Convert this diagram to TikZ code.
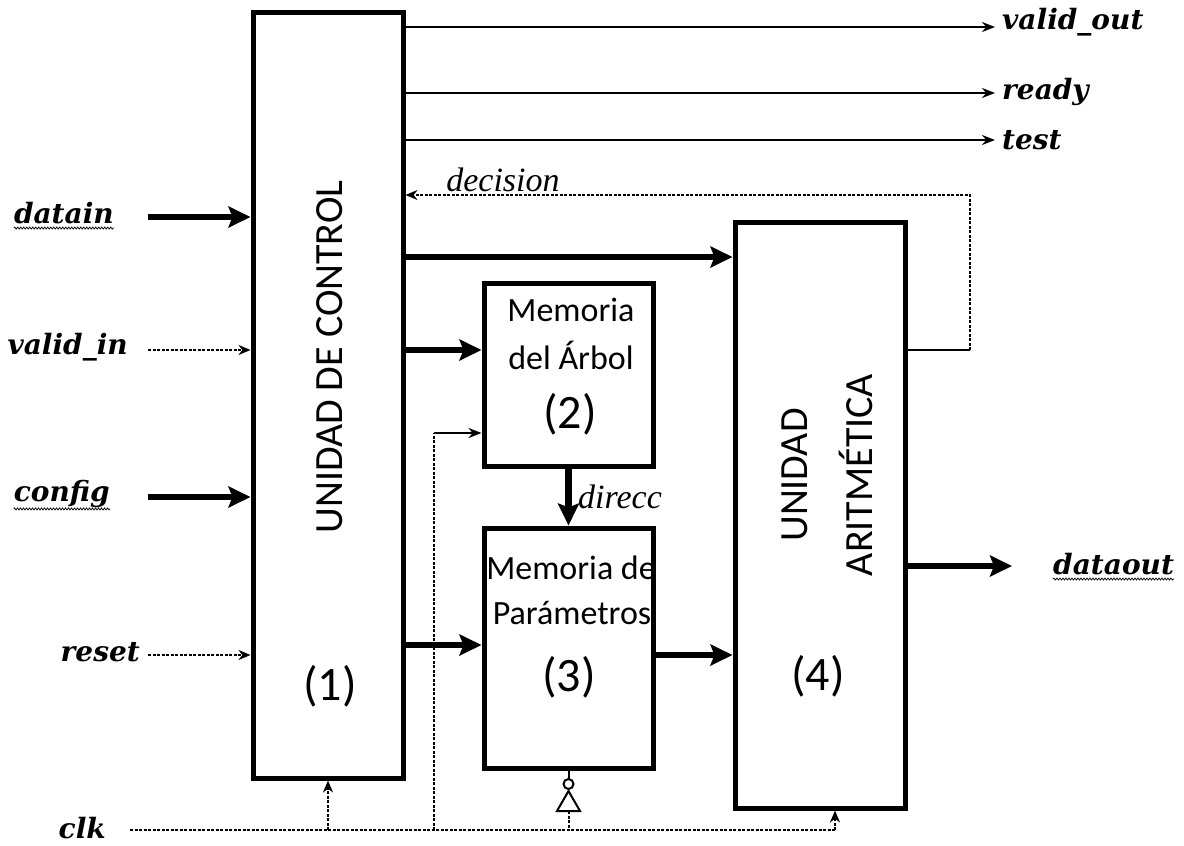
\documentclass[tikz,border=0pt]{standalone}
\usepackage{fontspec}
\setmainfont{Liberation Serif}
\newfontfamily\sansf{Carlito}
\newfontfamily\labf{DejaVu Serif}
\usetikzlibrary{arrows.meta,decorations.pathmorphing}
\newcommand\mylbl{\labf\fontsize{28}{30}\selectfont\bfseries\itshape}
\newcommand\myital{\fontsize{34}{36}\selectfont\itshape}
\newcommand\mybox{\sansf\fontsize{34}{36}\selectfont}
\newcommand\mybig{\sansf\fontsize{40}{42}\selectfont}
\newcommand\mynum{\sansf\fontsize{48}{50}\selectfont}
\begin{document}
\begin{tikzpicture}[x=1pt,y=-1pt,
  blk/.style={draw,line width=5pt,fill=white,inner sep=0pt},
  thin/.style={line width=2pt,-{Stealth[length=13pt,width=10pt]}},
  thinline/.style={line width=2pt},
  dashline/.style={line width=2pt,dash pattern=on 3pt off 1.5pt},
  dasharrow/.style={dashline,-{Stealth[length=12pt,width=10pt]}},
  bigarrow/.style={line width=6.5pt,-{Stealth[length=22pt,width=21pt,inset=4pt]}},
  lab/.style={font=\mylbl,inner sep=0pt},
  wavy/.style={line width=0.7pt,decorate,decoration={snake,amplitude=1pt,segment length=3pt}}
]
\useasboundingbox (0,0) rectangle (1184,846);

% blocks
\node[blk,minimum width=150pt,minimum height=766pt] (cu) at (328,395) {};
\node[blk,minimum width=169pt,minimum height=183pt] (ma) at (568.5,374.5) {};
\node[blk,minimum width=169pt,minimum height=240pt] (mp) at (568.5,648) {};
\node[blk,minimum width=170pt,minimum height=586pt] (ua) at (820,515) {};

% block texts
\node[rotate=90,font=\mybig] (cut) at (330,357) {UNIDAD DE CONTROL};
\node[font=\mynum] (cun) at (330,686) {(1)};
\node[font=\mybox] (mat1) at (571,310) {Memoria};
\node[font=\mybox] (mat2) at (571,355) {del Árbol};
\node[font=\mynum] (man) at (570,414) {(2)};
\node[font=\mybox] (mpt1) at (571,568) {Memoria de};
\node[font=\mybox] (mpt2) at (572,613) {Parámetros};
\node[font=\mynum] (mpn) at (569,677) {(3)};
\node[rotate=90,font=\mybig] (uat1) at (795,475) {UNIDAD};
\node[rotate=90,font=\mybig] (uat2) at (856,475) {ARITMÉTICA};
\node[font=\mynum] (uan) at (818,676) {(4)};

% labels
\node[lab,anchor=west] (vo) at (1002,22) {valid\_out};
\node[lab,anchor=west] (rd) at (1002,92) {ready};
\node[lab,anchor=west] (ts) at (1002,140) {test};
\node[lab,anchor=west] (dout) at (1053,564) {dataout};
\node[lab,anchor=east] (din) at (114,213) {datain};
\node[lab,anchor=east] (vin) at (128,347) {valid\_in};
\node[lab,anchor=east] (cfg) at (110,494) {config};
\node[lab,anchor=east] (rst) at (140,652) {reset};
\node[lab,anchor=east] (clk) at (106,828) {clk};
\node[font=\myital,inner sep=0pt] (dec) at (503,180) {decision};
\node[font=\myital,inner sep=0pt,anchor=west] (dir) at (578,497) {direcc};

% wavy underlines
\draw[wavy] ([yshift=-4pt]din.south west) -- ([yshift=-4pt]din.south east);
\draw[wavy] ([yshift=-1pt]cfg.south west) -- ([yshift=-1pt]cfg.south east);
\draw[wavy] ([yshift=-4pt]dout.south west) -- ([yshift=-4pt]dout.south east);

% coordinates
\coordinate (vo1) at (995,27);
\coordinate (rd1) at (995,93);
\coordinate (ts1) at (995,140);
\coordinate (din0) at (148,217);
\coordinate (vin0) at (148,350);
\coordinate (cfg0) at (148,497);
\coordinate (rst0) at (148,655);
\coordinate (dout1) at (1012,566);
\coordinate (clk0) at (130,830);
\coordinate (clkE) at (835,830);
\coordinate (d1) at (970,350);
\coordinate (d2) at (970,195);
\coordinate (c2) at (434,433);

% outputs of control unit
\draw[thin] (cu.east |- vo1) -- (vo1);
\draw[thin] (cu.east |- rd1) -- (rd1);
\draw[thin] (cu.east |- ts1) -- (ts1);

% inputs
\draw[bigarrow] (din0) -- (cu.west |- din0);
\draw[dasharrow] (vin0) -- (cu.west |- vin0);
\draw[bigarrow] (cfg0) -- (cu.west |- cfg0);
\draw[dasharrow] (rst0) -- (cu.west |- rst0);

% internal thick arrows
\draw[bigarrow] (cu.east |- 0,257) -- (ua.west |- 0,257);
\draw[bigarrow] (cu.east |- 0,350) -- (ma.west |- 0,350);
\draw[bigarrow] (cu.east |- 0,645) -- (mp.west |- 0,645);
\draw[bigarrow] (ma.south) -- (mp.north);
\draw[bigarrow] (mp.east |- 0,655) -- (ua.west |- 0,655);
\draw[bigarrow] (ua.east |- dout1) -- (dout1);

% decision feedback
\draw[thinline] (ua.east |- d1) -- (d1);
\draw[dasharrow] (d1) -- (d2) -- (cu.east |- d2);

% clock
\draw[dashline] (clk0) -- (clkE);
\draw[dasharrow] (cu.south |- clk0) -- (cu.south);
\draw[dasharrow] (clkE) -- (ua.south -| clkE);
\draw[dashline] (c2 |- clk0) -- (c2);
\draw[thin] (c2) -- (ma.west |- c2);
% inverter
\coordinate (invT) at (568.5,791);
\draw[thinline] (mp.south) -- (568.5,779);
\draw[line width=2pt] (568.5,784) circle (5pt);
\draw[line width=2pt,line join=miter] (invT) -- (557,811) -- (580,811) -- cycle;
\draw[dashline] (568.5,811) -- (568.5,830);
\end{tikzpicture}
\end{document}
